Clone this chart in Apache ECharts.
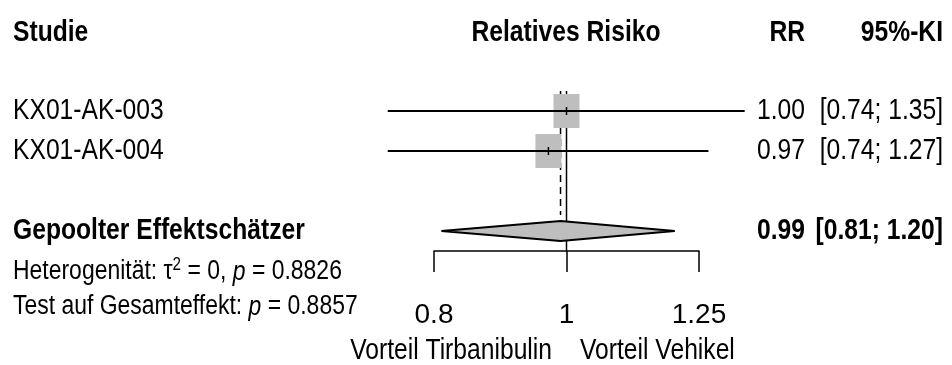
<!DOCTYPE html>
<html>
<head>
<meta charset="utf-8">
<script src="https://cdn.jsdelivr.net/npm/echarts@6/dist/echarts.min.js"></script>
<style>
  html, body { margin: 0; padding: 0; background: #fff; }
  #main { width: 952px; height: 365px; }
</style>
</head>
<body>
<div id="main"></div>
<script>
  // Einzelstudien
  var studyNames = ['KX01-AK-003', 'KX01-AK-004'];
  var studyRR = [1.00, 0.97];
  var studyLower = [0.74, 0.74];
  var studyUpper = [1.35, 1.27];

  // gepoolter Effekt
  var pooledName = 'Gepoolter Effektschätzer';
  var pooledRR = 0.99;
  var pooledLower = 0.81;
  var pooledUpper = 1.20;
  var tau2 = '0';
  var pHet = '0.8826';
  var pOverall = '0.8857';

  // x-Achse (log)
  var tickValues = [0.8, 1, 1.25];
  var tickLabels = ['0.8', '1', '1.25'];

  var FONT = '"Liberation Sans", Arial, sans-serif';
  var NARROW = 0.85; // Schrift schmaler machen (kein Narrow-Font da)
  var GREY = '#bebebe';
  var ln = Math.log;
  var fmt = function (v) { return v.toFixed(2); };

  // Zeilen (y-Achse, invertiert)
  var studyRows = [1, 2];
  var pooledRow = 4;

  var chart = echarts.init(document.getElementById('main'));

  var studyData = studyRR.map(function (v, i) {
    return [ln(studyLower[i]), ln(studyUpper[i]), ln(v), studyRows[i]];
  });

  var textRows = studyNames.map(function (n, i) {
    return [0, studyRows[i], n, fmt(studyRR[i]), '[' + fmt(studyLower[i]) + '; ' + fmt(studyUpper[i]) + ']', 'normal'];
  });
  textRows.push([0, pooledRow, pooledName, fmt(pooledRR), '[' + fmt(pooledLower) + '; ' + fmt(pooledUpper) + ']', 'bold']);

  function txt(x, y, s, align, weight, size, rich) {
    return {
      type: 'text', x: x, y: y, scaleX: NARROW,
      style: {
        text: s, fill: '#000', align: align, verticalAlign: 'middle',
        fontFamily: FONT, fontSize: size || 29, fontWeight: weight || 'normal',
        rich: rich
      }
    };
  }

  var option = {
    animation: false,
    grid: { left: 434, right: 253, top: 71, bottom: 114 },
    xAxis: {
      type: 'value',
      min: ln(tickValues[0]),
      max: ln(tickValues[tickValues.length - 1]),
      axisLine: { show: true, onZero: false, lineStyle: { color: '#000', width: 1.5 } },
      axisTick: { show: true, length: 21, customValues: tickValues.map(ln), lineStyle: { color: '#000', width: 1.5 } },
      axisLabel: {
        customValues: tickValues.map(ln),
        margin: 50,
        color: '#000', fontFamily: FONT, fontSize: 28,
        formatter: function (v) {
          var k = tickValues.findIndex(function (t) { return Math.abs(ln(t) - v) < 1e-9; });
          return k >= 0 ? tickLabels[k] : '';
        }
      },
      splitLine: { show: false }
    },
    yAxis: { type: 'value', inverse: true, min: 0, max: 4.5, show: false },
    graphic: [
      txt(13, 33, 'Studie', 'left', 'bold'),
      txt(566, 33, 'Relatives Risiko', 'center', 'bold'),
      txt(805, 33, 'RR', 'right', 'bold'),
      txt(943, 33, '95%-KI', 'right', 'bold'),
      txt(13, 272, 'Heterogenität: τ{sup|2} = ' + tau2 + ', {it|p} = ' + pHet, 'left', 'normal', 27, {
        sup: { fontFamily: FONT, fontSize: 18, verticalAlign: 'top', padding: [0, 0, 13, 0] },
        it: { fontFamily: FONT, fontSize: 27, fontStyle: 'italic' }
      }),
      txt(13, 307, 'Test auf Gesamteffekt: {it|p} = ' + pOverall, 'left', 'normal', 27, {
        it: { fontFamily: FONT, fontSize: 27, fontStyle: 'italic' }
      }),
      txt(552, 351, 'Vorteil Tirbanibulin', 'right'),
      txt(580, 351, 'Vorteil Vehikel', 'left')
    ],
    series: [
      {
        // Referenzlinien: RR = 1 (durchgezogen), gepoolter Schätzer (gestrichelt)
        type: 'custom', clip: false, z: 1,
        data: [[0, 0.5, 4.5, 0], [ln(pooledRR), 0.5, 3.6, 1]],
        encode: { x: 0, y: [1, 2] },
        renderItem: function (params, api) {
          var a = api.coord([api.value(0), api.value(1)]);
          var b = api.coord([api.value(0), api.value(2)]);
          return {
            type: 'line',
            shape: { x1: a[0], y1: a[1], x2: b[0], y2: b[1] },
            style: { stroke: '#000', lineWidth: 1.5, lineDash: api.value(3) ? [7, 5] : null }
          };
        }
      },
      {
        // Studien: Quadrat + Konfidenzintervall
        type: 'custom', clip: false, z: 2,
        data: studyData,
        encode: { x: [0, 1, 2], y: 3 },
        renderItem: function (params, api) {
          var y = api.value(3);
          var lo = api.coord([api.value(0), y]);
          var hi = api.coord([api.value(1), y]);
          var est = api.coord([api.value(2), y]);
          return {
            type: 'group',
            children: [
              { type: 'rect', shape: { x: est[0] - 13, y: est[1] - 17, width: 26, height: 34 }, style: { fill: GREY } },
              { type: 'line', shape: { x1: lo[0], y1: lo[1], x2: hi[0], y2: hi[1] }, style: { stroke: '#000', lineWidth: 2 } },
              { type: 'line', shape: { x1: est[0], y1: est[1] - 4, x2: est[0], y2: est[1] + 4 }, style: { stroke: '#000', lineWidth: 1.5 } }
            ]
          };
        }
      },
      {
        // Gepoolter Effekt: Raute
        type: 'custom', clip: false, z: 3,
        data: [[ln(pooledLower), ln(pooledUpper), ln(pooledRR), pooledRow]],
        encode: { x: [0, 1, 2], y: 3 },
        renderItem: function (params, api) {
          var y = api.value(3);
          var lo = api.coord([api.value(0), y]);
          var hi = api.coord([api.value(1), y]);
          var est = api.coord([api.value(2), y]);
          return {
            type: 'polygon',
            shape: { points: [[lo[0], lo[1]], [est[0], est[1] - 10], [hi[0], hi[1]], [est[0], est[1] + 10]] },
            style: { fill: GREY, stroke: '#000', lineWidth: 2 }
          };
        }
      },
      {
        // Textspalten
        type: 'custom', clip: false, z: 4,
        data: textRows,
        encode: { x: 0, y: 1 },
        renderItem: function (params, api) {
          var p = api.coord([0, api.value(1)]);
          var r = textRows[params.dataIndex];
          return {
            type: 'group',
            children: [
              txt(13, p[1], r[2], 'left', r[5]),
              txt(805, p[1], r[3], 'right', r[5]),
              txt(943, p[1], r[4], 'right', r[5])
            ]
          };
        }
      }
    ]
  };

  chart.setOption(option);
</script>
</body>
</html>
